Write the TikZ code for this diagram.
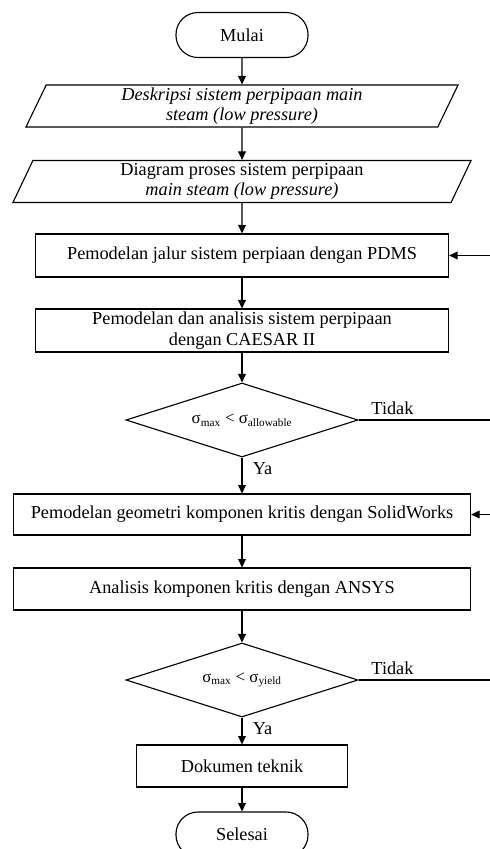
\documentclass[tikz,border=0pt]{standalone}
\usepackage{fontspec}
\setmainfont{Liberation Serif}
\usetikzlibrary{shapes.geometric,arrows.meta}

\tikzset{
proses/.style={shape=rectangle,draw,minimum height=1.075cm,inner sep=2pt,align=center},
data/.style={shape=trapezium,draw,trapezium left angle=63,trapezium right angle=117,trapezium stretches body,minimum height=1.05cm,inner sep=1pt,align=center},
kondisi/.style={shape=diamond,draw,aspect=3.1,minimum width=5.8cm,minimum height=1.85cm,inner sep=0pt,font=\fontsize{12}{14}\selectfont},
terminal/.style={shape=rectangle,draw,rounded corners=0.55cm,minimum width=3.3cm,minimum height=1.125cm}
}

\begin{document}
\begin{tikzpicture}[x=0.025cm,y=-0.025cm,>={Triangle[length=6pt,width=5.5pt]},line width=0.8pt,font=\fontsize{13}{14.5}\selectfont]
\useasboundingbox (0,0) rectangle (490,849);
\clip (0,0) rectangle (490,849);
\node(mulai) at (242,35) [terminal] {Mulai};
\node(desk) at (242,106) [data,minimum width=10.8cm] {\textit{Deskripsi sistem perpipaan main}\\\textit{steam (low pressure)}};
\node(diag) at (242,181.5) [data,minimum width=11.45cm] {Diagram proses sistem perpipaan\\\textit{main steam (low pressure)}};
\node(pdms) at (242,255.5) [proses,minimum width=10.325cm] {Pemodelan jalur sistem perpiaan dengan PDMS};
\node(caesar) at (242,330.5) [proses,minimum width=10.325cm] {Pemodelan dan analisis sistem perpipaan\\dengan CAESAR II};
\node(cek1) at (242,420) [kondisi] {σ\textsubscript{max} < σ\textsubscript{allowable}};
\node(solid) at (242,514.5) [proses,minimum width=11.425cm,minimum height=1.025cm] {Pemodelan geometri komponen kritis dengan SolidWorks};
\node(ansys) at (242,589) [proses,minimum width=11.425cm,minimum height=1.05cm] {Analisis komponen kritis dengan ANSYS};
\node(cek2) at (242,680) [kondisi] {σ\textsubscript{max} < σ\textsubscript{yield}};
\node(dok) at (242,766) [proses,minimum width=5.275cm,minimum height=1.05cm] {Dokumen teknik};
\node(selesai) at (242,834.5) [terminal] {Selesai};
\coordinate(balik1) at (520,420);
\coordinate(balik2) at (520,680);
\path [->]
(mulai) edge (desk)
(desk) edge (diag)
(diag) edge (pdms)
(pdms) edge (caesar)
(caesar) edge (cek1)
(cek1) edge node [right=4pt,pos=0.3] {Ya} (solid)
(solid) edge (ansys)
(ansys) edge (cek2)
(cek2) edge node [right=4pt,pos=0.4] {Ya} (dok)
(dok) edge (selesai);
\draw [->] (cek1) -- node [above,pos=0.21] {Tidak} (balik1) |- (pdms);
\draw [->] (cek2) -- node [above,pos=0.21] {Tidak} (balik2) |- (solid);
\end{tikzpicture}
\end{document}
